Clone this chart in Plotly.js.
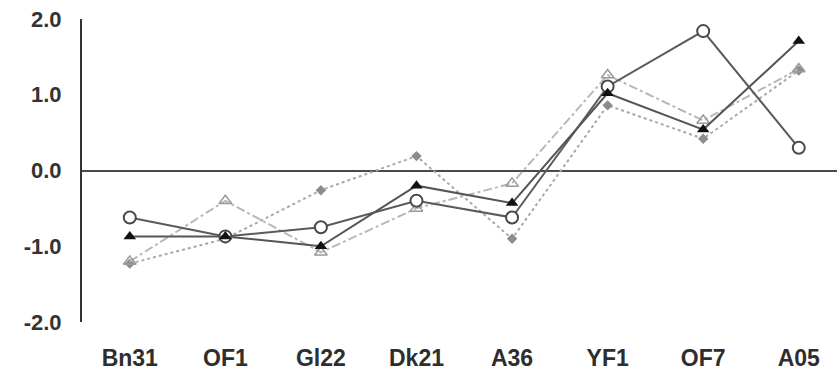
<!DOCTYPE html>
<html>
<head>
<meta charset="utf-8">
<script src="https://cdn.plot.ly/plotly-3.0.1.min.js"></script>
<style>
  html, body { margin: 0; padding: 0; background: #fff; }
  #chart { width: 837px; height: 374px; }
</style>
</head>
<body>
<div id="chart"></div>
<script>
// Sample sites along the x axis
const sites = ["Bn31", "OF1", "Gl22", "Dk21", "A36", "YF1", "OF7", "A05"];

// Four score profiles per site
const seriesCircle   = [-0.62, -0.87, -0.75, -0.40, -0.62, 1.11, 1.84, 0.30];
const seriesTriangle = [-0.87, -0.87, -1.00, -0.20, -0.43, 1.02, 0.54, 1.71];
const seriesOpenTri  = [-1.20, -0.40, -1.08, -0.50, -0.17, 1.26, 0.66, 1.34];
const seriesDiamond  = [-1.23, -0.90, -0.26, 0.19, -0.90, 0.86, 0.42, 1.32];

const yTicks = [-2, -1, 0, 1, 2];
const yTickText = ["-2.0", "-1.0", "0.0", "1.0", "2.0"];

const traces = [
  {
    x: sites, y: seriesDiamond, type: "scatter", mode: "lines+markers",
    line: { color: "#a8a8a8", width: 2, dash: "dot" },
    marker: { symbol: "diamond", size: 8, color: "#8c8c8c" }
  },
  {
    x: sites, y: seriesOpenTri, type: "scatter", mode: "lines+markers",
    line: { color: "#b8b8b8", width: 2, dash: "dashdot" },
    marker: { symbol: "triangle-up-open", size: 11, color: "#9a9a9a", line: { width: 1.5 } }
  },
  {
    x: sites, y: seriesCircle, type: "scatter", mode: "lines+markers",
    line: { color: "#5a5a5a", width: 2 },
    marker: { symbol: "circle", size: 12, color: "#ffffff", line: { color: "#4a4a4a", width: 2 } }
  },
  {
    x: sites, y: seriesTriangle, type: "scatter", mode: "lines+markers",
    line: { color: "#555555", width: 2 },
    marker: { symbol: "triangle-up", size: 11, color: "#111111" }
  }
];

const layout = {
  width: 837, height: 374,
  margin: { l: 82, r: 0, t: 19, b: 52 },
  paper_bgcolor: "#ffffff", plot_bgcolor: "#ffffff",
  showlegend: false,
  font: { family: "Liberation Sans, Arial, sans-serif", size: 16, color: "#333333" },
  xaxis: {
    type: "category",
    range: [-0.5, 7.4],
    showgrid: false, zeroline: false, showline: false,
    ticks: "", ticklabelstandoff: 20,
    tickfont: { family: "Liberation Sans, Arial, sans-serif", size: 23, color: "#2e2e2e", weight: "bold" }
  },
  yaxis: {
    range: [-2, 2],
    tickvals: yTicks, ticktext: yTickText,
    showgrid: false,
    zeroline: true, zerolinecolor: "#4a4a4a", zerolinewidth: 2,
    showline: true, linecolor: "#333333", linewidth: 2,
    ticks: "", ticklabelstandoff: 14,
    tickfont: { family: "Liberation Sans, Arial, sans-serif", size: 22, color: "#333333", weight: "bold" }
  }
};

Plotly.newPlot("chart", traces, layout, { displayModeBar: false, staticPlot: true });
</script>
</body>
</html>
